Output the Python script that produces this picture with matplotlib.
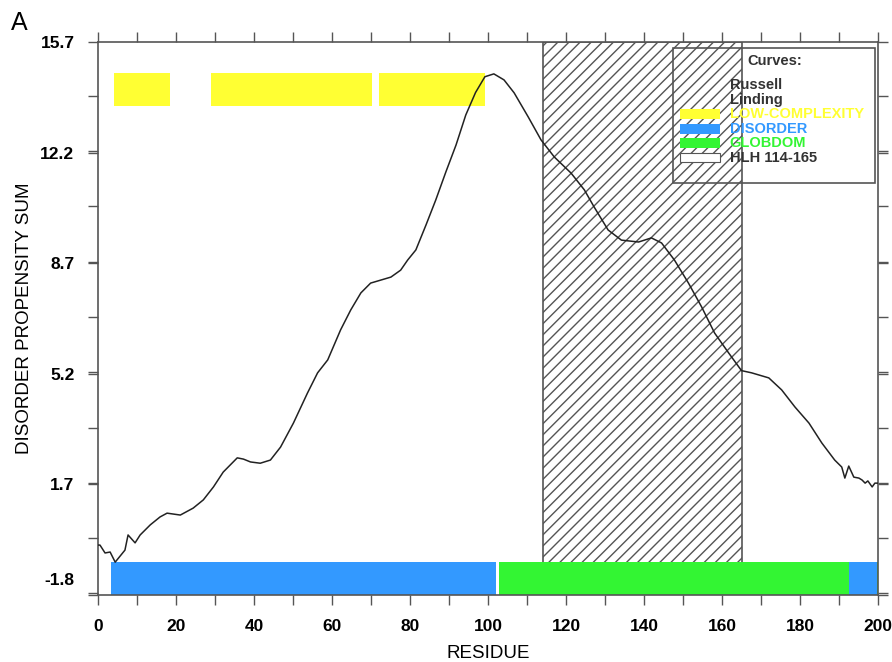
import matplotlib
matplotlib.use('Agg')
import matplotlib.pyplot as plt
import matplotlib.transforms as mtransforms
from matplotlib.patches import Rectangle
from matplotlib.ticker import MultipleLocator

plt.rcParams['font.family'] = ['Liberation Sans', 'DejaVu Sans']

# disorder propensity curve (residue, value)
residuos = [0, 0.5, 1.8, 3.1, 4.4, 6.9, 7.7, 9.5, 10.8, 13.4, 15.9, 17.7, 21.1, 24.4, 27.0,
            29.6, 32.1, 35.7, 37.3, 39.1, 41.6, 44.2, 46.8, 50.1, 53.7, 56.3, 58.9, 62.2,
            64.8, 67.4, 69.9, 75.1, 77.6, 79.4, 81.5, 84.1, 86.6, 89.2, 91.8, 94.3, 96.8,
            99.2, 101.5, 104.1, 106.7, 110.3, 113.6, 117.0, 121.3, 124.7, 127.2, 130.8,
            134.2, 138.6, 141.9, 144.5, 147.8, 151.4, 154.8, 158.1, 161.7, 165.0, 167.6,
            172.0, 175.3, 178.7, 182.3, 185.6, 188.9, 190.7, 191.5, 192.5, 193.8, 195.1,
            195.9, 196.7, 197.4, 198.5, 199.2, 200]
valores = [-0.22, -0.22, -0.47, -0.44, -0.76, -0.38, 0.10, -0.15, 0.10, 0.42, 0.67, 0.79,
           0.73, 0.95, 1.21, 1.62, 2.09, 2.54, 2.50, 2.41, 2.37, 2.47, 2.88, 3.64, 4.59,
           5.23, 5.64, 6.59, 7.22, 7.76, 8.07, 8.26, 8.48, 8.80, 9.12, 9.91, 10.7, 11.59,
           12.44, 13.39, 14.1, 14.6, 14.69, 14.5, 14.09, 13.33, 12.6, 12.06, 11.55, 11.02,
           10.48, 9.75, 9.43, 9.37, 9.5, 9.34, 8.80, 8.07, 7.31, 6.49, 5.86, 5.30, 5.23,
           5.07, 4.69, 4.15, 3.64, 3.01, 2.47, 2.25, 1.90, 2.28, 1.93, 1.90, 1.84, 1.74,
           1.81, 1.62, 1.74, 1.74]

# segments (start, end)
low_complexity = [(4.1, 18.5), (29, 70.2), (72, 99.2)]
disorder = [(3.3, 102), (192.5, 199.7)]
globdom = [(102.8, 192.5), (199.7, 200)]
hlh = (114, 165)

y_ticks = [-1.8, 1.7, 5.2, 8.7, 12.2, 15.7]
x_ticks = [0, 20, 40, 60, 80, 100, 120, 140, 160, 180, 200]

amarillo = '#ffff33'
azul = '#3399ff'
verde = '#33f533'

fig = plt.figure(figsize=(8.92, 6.62), dpi=100)
ax = fig.add_axes([0.1099, 0.1012, 0.8744, 0.8354])

ax.set_xlim(0, 200)
ax.set_ylim(-1.8, 15.7)

# HLH domain hatched box
plt.rcParams['hatch.linewidth'] = 1.0
plt.rcParams['hatch.color'] = '#444444'
ax.add_patch(Rectangle((hlh[0], -1.8), hlh[1] - hlh[0], 17.5, facecolor='none',
                       edgecolor='#555555', hatch='///', linewidth=1.2, zorder=1))

# segment bars
for a, b in low_complexity:
    ax.add_patch(Rectangle((a, 13.67), b - a, 1.05, facecolor=amarillo, edgecolor='none', zorder=2))
for a, b in disorder:
    ax.add_patch(Rectangle((a, -1.8), b - a, 1.04, facecolor=azul, edgecolor='none', zorder=2))
for a, b in globdom:
    ax.add_patch(Rectangle((a, -1.8), b - a, 1.04, facecolor=verde, edgecolor='none', zorder=2))

ax.plot(residuos, valores, color='#222222', linewidth=1.1, zorder=3)

# ticks
ax.set_xticks(x_ticks)
ax.xaxis.set_minor_locator(MultipleLocator(10))
ax.set_yticks(y_ticks)
ax.set_yticklabels([f"{v:.1f}" for v in y_ticks])
ax.yaxis.set_minor_locator(MultipleLocator(1.75))
ax.tick_params(which='both', direction='out', top=True, right=True, length=7,
               width=1.0, color='#555555', labelsize=12.5, pad=10)
for lab in ax.get_xticklabels() + ax.get_yticklabels():
    lab.set_fontweight('bold')
# -1.8 label sits a bit higher in the original
offset = mtransforms.ScaledTranslation(0, 0.16, fig.dpi_scale_trans)
ax.get_yticklabels()[0].set_transform(ax.get_yticklabels()[0].get_transform() + offset)

for s in ax.spines.values():
    s.set_color('#555555')
    s.set_linewidth(1.2)

ax.set_xlabel("RESIDUE", fontsize=13.5, labelpad=8)
ax.set_ylabel("DISORDER PROPENSITY SUM", fontsize=13.5, labelpad=5)
fig.text(0.012, 0.955, "A", fontsize=18)

# legend box (axes fraction)
fs_leyenda = 10.5
ax.add_patch(Rectangle((0.737, 0.745), 0.259, 0.244, transform=ax.transAxes,
                       facecolor='none', edgecolor='#555555', linewidth=1.2, zorder=4))
ax.text(0.832, 0.965, "Curves:", transform=ax.transAxes, fontsize=fs_leyenda, fontweight='bold',
        color='#333333', va='center')
ax.text(0.810, 0.922, "Russell", transform=ax.transAxes, fontsize=fs_leyenda, fontweight='bold',
        color='#333333', va='center')
ax.text(0.810, 0.895, "Linding", transform=ax.transAxes, fontsize=fs_leyenda, fontweight='bold',
        color='#333333', va='center')
entradas = [("LOW-COMPLEXITY", amarillo, 0.870), ("DISORDER", azul, 0.843),
            ("GLOBDOM", verde, 0.818)]
for nombre, color, yy in entradas:
    ax.add_patch(Rectangle((0.746, yy - 0.009), 0.051, 0.018, transform=ax.transAxes,
                           facecolor=color, edgecolor='none', zorder=4))
    ax.text(0.810, yy, nombre, transform=ax.transAxes, fontsize=fs_leyenda, fontweight='bold',
            color=color, va='center')
ax.add_patch(Rectangle((0.746, 0.783), 0.051, 0.016, transform=ax.transAxes,
                       facecolor='white', edgecolor='#555555', linewidth=0.8, zorder=4))
ax.text(0.810, 0.791, "HLH 114-165", transform=ax.transAxes, fontsize=fs_leyenda, fontweight='bold',
        color='#333333', va='center')

plt.savefig('out.png', dpi=100)
